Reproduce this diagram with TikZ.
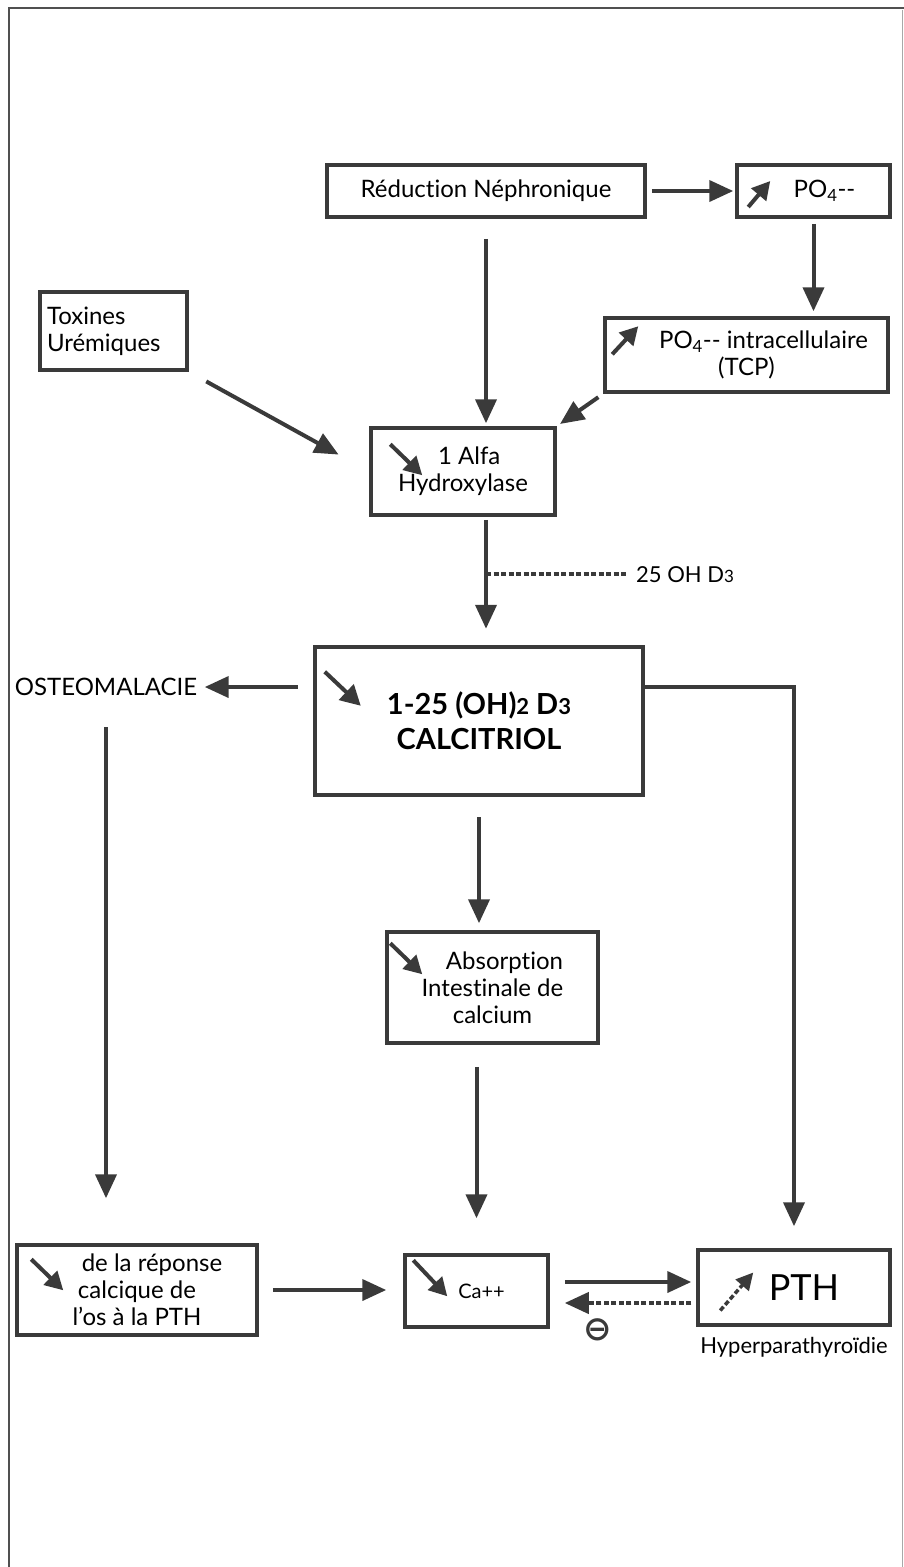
\documentclass[tikz,border=0pt]{standalone}
\usepackage{fontspec}
\setmainfont{Lato}[Ligatures=NoCommon]
\newfontfamily\symfont{DejaVu Sans}
\usepackage{tikz}
\usetikzlibrary{arrows.meta, positioning, calc}
\definecolor{ink}{HTML}{3A3A3A}
\definecolor{edgegray}{HTML}{505050}
\newcommand{\lowfig}[2]{{\fontsize{#1}{#1}\selectfont #2}}

\begin{document}
\begin{tikzpicture}[x=1pt, y=-1pt, font=\fontsize{24}{27}\selectfont]
        % Define block styles
        \tikzstyle{box} = [rectangle, draw=ink, line width=3.5pt, fill=white, align=center, inner sep=0pt]
        \tikzstyle{line} = [draw=ink, line width=4pt, -{Triangle[length=24pt, width=21pt]}]
        \tikzstyle{back} = [line, dash pattern=on 5pt off 2.5pt]
        \tikzstyle{trend} = [draw=ink, line width=4pt, -{Triangle[length=18pt, width=19pt]}]

        \useasboundingbox (0,0) rectangle (904,1567);
        \draw [edgegray, line width=1.5pt] (9,1567) -- (9,8) -- (904,8);
        \draw [edgegray!50, line width=1pt] (902,10) -- (902,1567);

        % Nodes
        \node [box, minimum width=318pt, minimum height=52pt] (reduction) at (486,191) {Réduction Néphronique};
        \node [box, minimum width=153pt, minimum height=52pt] (phos) at (813.5,191) {\hspace{22pt}PO\textsubscript{4}-{}-};
        \node [box, minimum width=283pt, minimum height=74pt] (phosin) at (746.5,355) {\hspace{34pt}PO\textsubscript{4}-{}- intracellulaire\\(TCP)};
        \node [box, align=left, minimum width=147pt, minimum height=78pt, text width=133pt] (toxines) at (113.5,331) {Toxines\\Urémiques};
        \node [box, align=left, minimum width=184pt, minimum height=87pt] (alfa) at (463,471.5) {\hspace{40pt}1 Alfa\\Hydroxylase};
        \node [box, line width=4.5pt, minimum width=328pt, minimum height=148pt, font=\fontsize{29}{35}\selectfont\bfseries] (calcitriol) at (479,721) {1-25 (OH)\lowfig{22}{2} D\lowfig{22}{3}\\CALCITRIOL};
        \node (osteo) at (106,687) {OSTEOMALACIE};
        \node [box, minimum width=211pt, minimum height=111pt] (absorption) at (492.5,987.5) {\hspace{24pt}Absorption\\Intestinale de\\calcium};
        \node [box, minimum width=240pt, minimum height=90pt] (reponse) at (137,1290) {\hspace{30pt}de la réponse\\calcique de\\l'os à la PTH};
        \node [box, minimum width=143pt, minimum height=72pt] (calcium) at (476.5,1291) {\hspace{10pt}\raisebox{-10pt}{\lowfig{20}{Ca++}}};
        \node [box, minimum width=192pt, minimum height=75pt, font=\fontsize{36}{40}\selectfont] (pth) at (794,1287.5) {\hspace{20pt}PTH};
        \node [below=7pt of pth, font=\fontsize{22}{26}\selectfont] (hyper) {Hyperparathyroïdie};
        \coordinate (ohjoin) at ($(alfa.south -| reduction)!0.45!(calcitriol.north -| reduction)$);
        \node [right=148pt of ohjoin, inner sep=2pt, font=\fontsize{22}{26}\selectfont] (oh) {25 OH D\lowfig{17}{3}};
        \node [inner sep=0pt, text=ink, font=\symfont\bfseries\fontsize{34}{34}\selectfont] (minus) at (598,1330) {⊖};

        % Trend marks in the boxes
        \draw [trend] ([shift={(13pt,-16pt)}]phos.west) -- ++(22pt,26pt);
        \draw [trend] ([shift={(9pt,-38pt)}]phosin.north west) -- ++(26pt,28pt);
        \draw [trend] ([shift={(21pt,-18pt)}]alfa.north west) -- ++(32pt,-31pt);
        \draw [trend, -{Triangle[length=20pt, width=21pt]}] ([shift={(12pt,-27pt)}]calcitriol.north west) -- ++(36pt,-34pt);
        \draw [trend] ([shift={(5pt,-13pt)}]absorption.north west) -- ++(32pt,-31pt);
        \draw [trend] ([shift={(16pt,-16pt)}]reponse.north west) -- ++(32pt,-31pt);
        \draw [trend] ([shift={(10pt,-7pt)}]calcium.north west) -- ++(34pt,-36pt);
        \draw [back, line width=3.5pt, -{Triangle[length=17pt, width=17pt]}] ([shift={(24pt,-23pt)}]pth.west) -- ++(33pt,38pt);

        % Paths
        \path [line, shorten <=5pt, shorten >=2pt] (reduction) -- (phos);
        \path [line, shorten <=5pt, shorten >=5pt] (phos.south) -- (phos.south |- phosin.north);
        \path [line, shorten <=20pt, shorten >=3pt] (reduction.south) -- (reduction.south |- alfa.north);
        \path [line, shorten <=20pt, shorten >=35pt] (toxines.south east) -- (alfa.west);
        \path [line, shorten <=6pt, shorten >=4pt] (phosin.south west) -- (alfa.north east);
        \path [line, shorten <=3pt, shorten >=16pt] (alfa.south -| reduction) -- (calcitriol.north -| reduction);
        \draw [draw=ink, line width=4pt, dash pattern=on 5pt off 2.5pt, shorten >=6pt] (ohjoin) -- (oh.west);
        \path [line, shorten <=15pt, shorten >=4pt] (calcitriol.west |- osteo) -- (osteo.east);
        \path [line, shorten >=22pt] (calcitriol.east |- osteo) -| (pth.north);
        \path [line, shorten <=20pt, shorten >=7pt] (calcitriol.south) -- (calcitriol.south |- absorption.north);
        \path [line, shorten <=22pt, shorten >=35pt] (calcium.north |- absorption.south) -- (calcium.north);
        \path [line, shorten <=28pt, shorten >=45pt] (osteo.south) -- (osteo.south |- reponse.north);
        \path [line, shorten <=14pt, shorten >=17pt] (reponse.east) -- (reponse.east -| calcium.west);
        \path [line, shorten <=15pt, shorten >=5pt] ([yshift=9pt]calcium.east) -- ([yshift=9pt]calcium.east -| pth.west);
        \path [back, shorten <=5pt, shorten >=15pt] ([yshift=-12pt]calcium.east -| pth.west) -- ([yshift=-12pt]calcium.east);

\end{tikzpicture}
\end{document}
